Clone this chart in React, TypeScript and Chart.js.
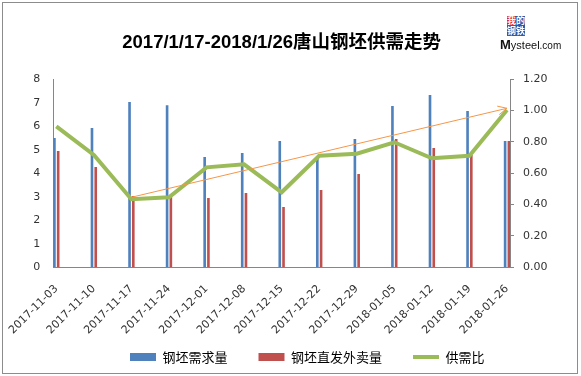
import React, { useEffect, useRef } from "react";
import { Chart, registerables } from "chart.js";

Chart.register(...registerables);

const categories = [
  "2017-11-03", "2017-11-10", "2017-11-17", "2017-11-24", "2017-12-01", "2017-12-08",
  "2017-12-15", "2017-12-22", "2017-12-29", "2018-01-05", "2018-01-12", "2018-01-19", "2018-01-26",
];
const demand = [5.5, 5.93, 7.03, 6.9, 4.69, 4.86, 5.37, 4.62, 5.46, 6.86, 7.33, 6.65, 5.37];
const supply = [4.95, 4.27, 3.03, 3.08, 2.95, 3.16, 2.57, 3.29, 3.97, 5.46, 5.08, 4.78, 5.37];
const ratio = [0.9, 0.717, 0.434, 0.447, 0.638, 0.657, 0.479, 0.712, 0.725, 0.798, 0.696, 0.712, 1.004];
const trendX = [2, 12];
const trendY = [0.447, 1.015];
const seriesNames = ["钢坯需求量", "钢坯直发外卖量", "供需比"];
const titleText = "2017/1/17-2018/1/26唐山钢坯供需走势";

const BLUE = "#4F81BD";
const RED = "#C0504D";
const GREEN = "#9BBB59";
const ORANGE = "#F79646";
const AXIS = "#868686";
const TEXT = "#333333";

const arrowPlugin = {
  id: "arrowHead",
  afterDatasetsDraw(chart: any) {
    const idx = chart.data.datasets.findIndex((d: any) => d.isTrend);
    if (idx < 0) return;
    const meta = chart.getDatasetMeta(idx);
    const pts = meta.data;
    if (pts.length < 2) return;
    const a = pts[pts.length - 2];
    const b = pts[pts.length - 1];
    const ang = Math.atan2(b.y - a.y, b.x - a.x);
    const len = 10;
    const spread = 0.45;
    const ctx = chart.ctx;
    ctx.save();
    ctx.strokeStyle = ORANGE;
    ctx.lineWidth = 1;
    ctx.beginPath();
    ctx.moveTo(b.x - len * Math.cos(ang - spread), b.y - len * Math.sin(ang - spread));
    ctx.lineTo(b.x, b.y);
    ctx.lineTo(b.x - len * Math.cos(ang + spread), b.y - len * Math.sin(ang + spread));
    ctx.stroke();
    ctx.restore();
  },
};

const fitX = (s: any) => {
  s.height = 52.2;
  s.paddingLeft = 0;
  s.paddingRight = 0;
  // let the rotated date labels run below the axis box (into the legend band)
  s._computeLabelArea = () => undefined;
};

export default function App() {
  const ref = useRef<HTMLCanvasElement | null>(null);

  useEffect(() => {
    document.body.style.margin = "0";
    const ctx = ref.current!.getContext("2d")!;
    const chart = new Chart(ctx, {
      type: "bar",
      data: {
        datasets: [
          {
            type: "line",
            label: "trend",
            isTrend: true,
            data: trendX.map((x, i) => ({ x, y: trendY[i] })),
            borderColor: ORANGE,
            borderWidth: 1,
            pointRadius: 0,
            yAxisID: "y1",
            order: 0,
          } as any,
          {
            type: "line",
            label: seriesNames[2],
            data: ratio.map((v, i) => ({ x: i, y: v })),
            borderColor: GREEN,
            backgroundColor: GREEN,
            borderWidth: 4,
            pointRadius: 0,
            tension: 0,
            yAxisID: "y1",
            order: 1,
          },
          {
            type: "bar",
            label: seriesNames[0],
            data: demand.map((v, i) => ({ x: i, y: v })),
            backgroundColor: BLUE,
            categoryPercentage: 0.2,
            barPercentage: 0.7,
            yAxisID: "y",
            order: 3,
          },
          {
            type: "bar",
            label: seriesNames[1],
            data: supply.map((v, i) => ({ x: i, y: v })),
            backgroundColor: RED,
            categoryPercentage: 0.2,
            barPercentage: 0.7,
            yAxisID: "y",
            order: 3,
          },
        ],
      },
      options: {
        responsive: false,
        animation: false,
        layout: { padding: { left: 33.5, right: 0, top: 0, bottom: 2.5 } },
        scales: {
          x: {
            type: "linear",
            offset: false,
            min: -0.08,
            max: 12.08,
            grid: { display: false, drawTicks: false, offset: false },
            border: { display: true, color: AXIS, width: 1 },
            afterFit: fitX,
            ticks: {
              stepSize: 1,
              includeBounds: false,
              autoSkip: false,
              maxRotation: 45,
              minRotation: 45,
              padding: 15,
              color: TEXT,
              font: { family: "'DejaVu Sans', sans-serif", size: 11 },
              callback: (v: any) => (Number.isInteger(v) && categories[v] ? categories[v] : ""),
            },
          },
          y: {
            position: "left",
            min: 0,
            max: 8,
            grid: { display: false, drawTicks: false },
            border: { display: true, color: AXIS, width: 1 },
            afterFit: (s: any) => { s.width = 19.8; },
            ticks: {
              stepSize: 1,
              padding: 13,
              color: TEXT,
              font: { family: "'DejaVu Sans', sans-serif", size: 11 },
            },
          },
          y1: {
            position: "right",
            min: 0,
            max: 1.2,
            grid: { display: true, drawOnChartArea: false, drawTicks: true, tickLength: 4, color: AXIS },
            border: { display: true, color: AXIS, width: 1 },
            afterFit: (s: any) => { s.width = 71; },
            ticks: {
              stepSize: 0.2,
              padding: 9,
              color: TEXT,
              font: { family: "'DejaVu Sans', sans-serif", size: 11 },
              callback: (v: any) => Number(v).toFixed(2),
            },
          },
        },
        plugins: {
          tooltip: { enabled: false },
          title: {
            display: true,
            fullSize: false,
            text: titleText,
            color: "#000000",
            font: { family: "'Liberation Sans', 'Noto Sans CJK SC', sans-serif", size: 18.5, weight: "bold", lineHeight: 1.2 },
            padding: { top: 32, bottom: 25.1 },
          },
          legend: {
            display: true,
            position: "bottom",
            labels: {
              usePointStyle: true,
              pointStyleWidth: 26,
              boxHeight: 8,
              padding: 31,
              color: "#000000",
              font: { family: "'Noto Sans CJK SC', sans-serif", size: 13 },
              generateLabels: () => [
                { text: seriesNames[0], fillStyle: BLUE, strokeStyle: BLUE, lineWidth: 0, pointStyle: "rect", datasetIndex: 2 },
                { text: seriesNames[1], fillStyle: RED, strokeStyle: RED, lineWidth: 0, pointStyle: "rect", datasetIndex: 3 },
                { text: seriesNames[2], fillStyle: GREEN, strokeStyle: GREEN, lineWidth: 4, pointStyle: "line", datasetIndex: 1 },
              ] as any,
            },
          },
        },
      } as any,
      plugins: [arrowPlugin],
    });
    return () => chart.destroy();
  }, []);

  const cell = (bg: string, ch: string) => (
    <div
      style={{
        width: 9, height: 10, background: bg, color: "#fff",
        fontFamily: "'Noto Sans CJK SC', sans-serif", fontSize: 9, lineHeight: "10px",
        textAlign: "center", fontWeight: "bold", overflow: "hidden",
      }}
    >
      {ch}
    </div>
  );

  return (
    <div style={{ position: "absolute", left: 0, top: 0, width: 581, height: 376, background: "#fff" }}>
      <canvas ref={ref} width={581} height={376} style={{ position: "absolute", left: 0, top: 0 }} />
      <div
        style={{
          position: "absolute", left: 2, top: 2, width: 574, height: 370,
          border: "1px solid #8c8c8c", pointerEvents: "none",
        }}
      />
      <div style={{ position: "absolute", left: 507, top: 16, width: 18, display: "flex", flexWrap: "wrap" }}>
        {cell("#E0202A", "我")}
        {cell("#2F5BA8", "的")}
        {cell("#2F5BA8", "钢")}
        {cell("#2F5BA8", "铁")}
      </div>
      <div
        style={{
          position: "absolute", left: 500, top: 37, whiteSpace: "nowrap",
          fontFamily: "'Liberation Sans', Arial, sans-serif", color: "#111", lineHeight: "13px",
        }}
      >
        <span style={{ fontSize: 13, fontWeight: "bold" }}>M</span>
        <span style={{ fontSize: 11 }}>ysteel</span>
        <span style={{ fontSize: 10 }}>.com</span>
      </div>
    </div>
  );
}
